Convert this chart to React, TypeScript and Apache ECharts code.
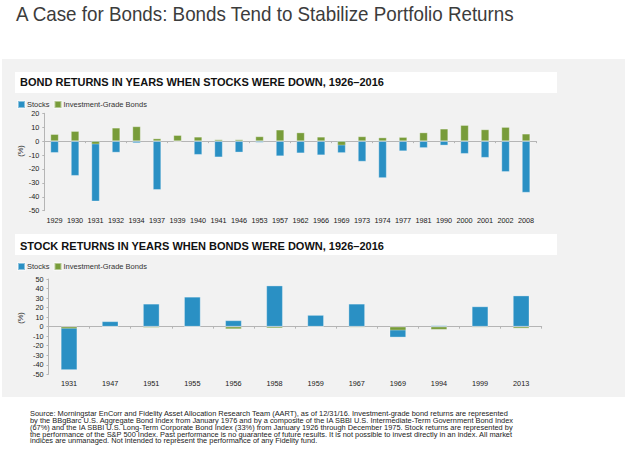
import React, { useEffect, useRef } from "react";
import * as echarts from "echarts";

const years1 = ["1929","1930","1931","1932","1934","1937","1939","1940","1941","1946","1953","1957","1962","1966","1969","1973","1974","1977","1981","1990","2000","2001","2002","2008"];
const stocks1 = [-8.4,-24.9,-43.3,-8.2,-1.4,-35.0,-0.4,-9.8,-11.6,-8.1,-1.0,-10.8,-8.7,-10.1,-8.5,-14.7,-26.5,-7.2,-4.9,-3.1,-9.1,-11.9,-22.1,-37.0];
const bonds1 = [5.0,7.2,-2.3,9.6,10.6,1.9,4.3,3.1,1.2,1.2,3.4,8.2,6.2,3.1,-3.1,3.4,2.6,2.9,6.2,8.9,11.5,8.4,10.1,5.3];

const years2 = ["1931","1947","1951","1955","1956","1958","1959","1967","1969","1994","1999","2013"];
const stocks2 = [-45.5,5.6,24.0,31.3,6.6,43.1,12.2,24.0,-11.3,1.3,21.2,32.6];
const bonds2 = [-2.2,-0.3,-1.2,-0.3,-2.6,-1.7,-0.3,-0.9,-4.0,-3.2,-0.9,-1.9];

const mainTitle = "A Case for Bonds: Bonds Tend to Stabilize Portfolio Returns";
const title1 = "BOND RETURNS IN YEARS WHEN STOCKS WERE DOWN, 1926\u20132016";
const title2 = "STOCK RETURNS IN YEARS WHEN BONDS WERE DOWN, 1926\u20132016";
const footLines = [
  "Source: Morningstar EnCorr and Fidelity Asset Allocation Research Team (AART), as of 12/31/16. Investment-grade bond returns are represented",
  "by the BBgBarc U.S. Aggregate Bond Index from January 1976 and by a composite of the IA SBBI U.S. Intermediate-Term Government Bond Index",
  "(67%) and the IA SBBI U.S. Long-Term Corporate Bond Index (33%) from January 1926 through December 1975. Stock returns are represented by",
  "the performance of the S&P 500 Index. Past performance is no guarantee of future results. It is not possible to invest directly in an index. All market",
  "indices are unmanaged. Not intended to represent the performance of any Fidelity fund.",
];

const BLUE = "#2A90C4";
const GREEN = "#789C3A";
const FONT = "'Liberation Sans', Arial, sans-serif";

export default function App() {
  const ref = useRef<HTMLDivElement>(null);
  useEffect(() => {
    if (!ref.current) return;
    const chart = echarts.init(ref.current, null, { renderer: "svg" });
    const axisColor = "#B5B5B5";
    const labelStyle = { fontSize: 7.3, color: "#1A1A1A", fontFamily: FONT };
    const mkX = (grid: number, data: string[], withLabels: boolean) => ({
      type: "category",
      gridIndex: grid,
      data,
      position: "bottom",
      axisLine: withLabels ? { show: false, onZero: false } : { show: true, onZero: true, lineStyle: { color: axisColor, width: 1 } },
      axisTick: withLabels ? { show: false } : { show: true, length: 2, lineStyle: { color: axisColor } },
      axisLabel: withLabels ? { show: true, margin: 6, interval: 0, ...labelStyle } : { show: false },
      splitLine: { show: false },
    });
    const mkY = (grid: number, min: number, max: number) => ({
      type: "value",
      gridIndex: grid,
      min,
      max,
      interval: 10,
      axisLine: { show: true, lineStyle: { color: axisColor } },
      axisTick: { show: true, length: 2, lineStyle: { color: axisColor } },
      axisLabel: { margin: 5, ...labelStyle },
      splitLine: { show: false },
    });
    const barBase = { type: "bar", barWidth: "40%", barGap: "-100%", itemStyle: { borderColor: "rgba(255,255,255,0.45)", borderWidth: 0.7 } };
    const legendBase = {
      data: ["Stocks", "Investment-Grade Bonds"],
      itemWidth: 7,
      itemHeight: 7,
      itemGap: 4,
      icon: "rect",
      padding: 0,
      selectedMode: false,
      textStyle: { fontSize: 7.5, color: "#333", fontFamily: FONT, padding: [0, 0, 0, -3] },
    };
    const text = (t: string, x: number, y: number, font: string, fill: string, extra: any = {}) => ({
      type: "text",
      x,
      y,
      silent: true,
      style: { text: t, font, fill, textAlign: "left", textVerticalAlign: "middle", ...extra },
    });
    chart.setOption({
      animation: false,
      backgroundColor: "#FFFFFF",
      graphic: [
        { type: "rect", z: -10, silent: true, shape: { x: 2, y: 59, width: 623, height: 338 }, style: { fill: "#F2F2F2" } },
        { type: "rect", z: -9, silent: true, shape: { x: 15, y: 72, width: 542, height: 21 }, style: { fill: "#FFFFFF" } },
        { type: "rect", z: -9, silent: true, shape: { x: 15, y: 234, width: 542, height: 21 }, style: { fill: "#FFFFFF" } },
        { ...text(mainTitle, 16, 14, `20px ${FONT}`, "#3C3C3C"), scaleX: 0.94 },
        text(title1, 20, 82, `bold 11px ${FONT}`, "#111"),
        text(title2, 20, 245.5, `bold 11px ${FONT}`, "#111"),
        { ...text("(%)", 20, 151, `7.5px ${FONT}`, "#333", { textAlign: "center" }), rotation: Math.PI / 2 },
        { ...text("(%)", 20, 318, `7.5px ${FONT}`, "#333", { textAlign: "center" }), rotation: Math.PI / 2 },
        ...footLines.map((l, i) => ({ ...text(l, 30, 414 + i * 6.75, `6.4px ${FONT}`, "#222"), scaleX: 1.16 })),
      ],
      legend: [
        { ...legendBase, left: 17, top: 100 },
        { ...legendBase, left: 17, top: 262 },
      ],
      grid: [
        { left: 44.3, right: 91.7, top: 113.3, bottom: 248.3 },
        { left: 48.5, right: 86.3, top: 279, bottom: 84.7 },
      ],
      xAxis: [mkX(0, years1, false), mkX(0, years1, true), mkX(1, years2, false), mkX(1, years2, true)],
      yAxis: [mkY(0, -50, 20), mkY(1, -50, 50)],
      series: [
        { ...barBase, name: "Stocks", xAxisIndex: 0, yAxisIndex: 0, data: stocks1, itemStyle: { ...barBase.itemStyle, color: BLUE } },
        { ...barBase, name: "Investment-Grade Bonds", xAxisIndex: 0, yAxisIndex: 0, data: bonds1, itemStyle: { ...barBase.itemStyle, color: GREEN } },
        { ...barBase, name: "Stocks", xAxisIndex: 2, yAxisIndex: 1, data: stocks2, itemStyle: { ...barBase.itemStyle, color: BLUE } },
        { ...barBase, name: "Investment-Grade Bonds", xAxisIndex: 2, yAxisIndex: 1, data: bonds2, itemStyle: { ...barBase.itemStyle, color: GREEN } },
      ],
    });
    return () => chart.dispose();
  }, []);
  return <div ref={ref} style={{ position: "fixed", left: 0, top: 0, width: 628, height: 459 }} />;
}
